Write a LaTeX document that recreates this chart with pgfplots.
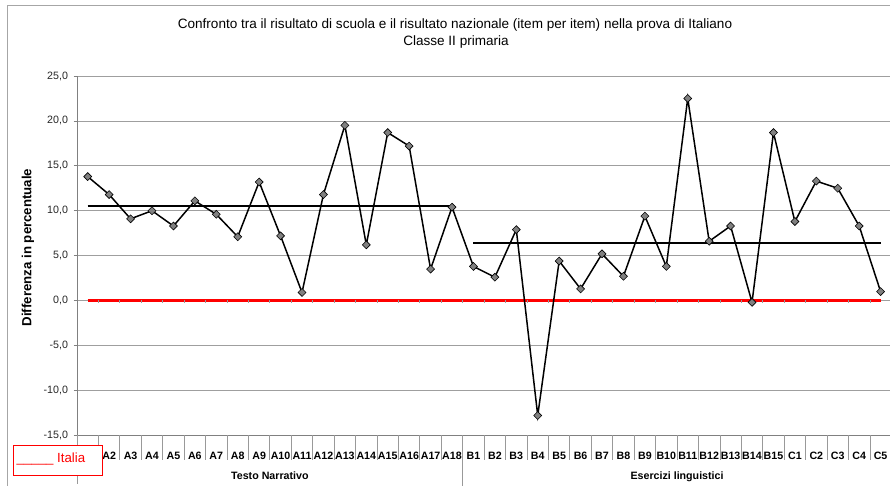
\documentclass[border=0pt]{standalone}
\usepackage{pgfplots}
\usepackage{pgfplotstable}
\pgfplotsset{compat=1.18}
\usepackage{fontspec}
\setmainfont{Liberation Sans}

\pgfplotstableread{
x y
1 13.8
2 11.8
3 9.1
4 10.0
5 8.3
6 11.1
7 9.6
8 7.1
9 13.2
10 7.2
11 0.9
12 11.8
13 19.5
14 6.2
15 18.7
16 17.2
17 3.5
18 10.4
19 3.8
20 2.6
21 7.9
22 -12.8
23 4.4
24 1.3
25 5.2
26 2.7
27 9.4
28 3.8
29 22.5
30 6.6
31 8.3
32 -0.2
33 18.7
34 8.8
35 13.3
36 12.5
37 8.3
38 1.0
}\scuola

\pgfplotstableread{
x y
1 10.5
18 10.5
}\mediaA

\pgfplotstableread{
x y
19 6.4
38 6.4
}\mediaB

\pgfplotstableread{
x y
1 0
38 0
}\italia

\begin{document}
\begin{tikzpicture}[x=1bp,y=1bp]
\path[use as bounding box] (0,0) rectangle (890,486);
% outer chart border
\draw[gray!70, line width=0.8bp] (7.5,-20) -- (7.5,481) -- (920,481);
\begin{axis}[
  at={(77bp,50.7bp)}, anchor=south west,
  scale only axis, width=814.3bp, height=359.3bp,
  xmin=0.5, xmax=38.5, ymin=-15, ymax=25,
  axis lines*=left,
  axis line style={gray, line width=0.9bp},
  xtick={1,...,38},
  xticklabels={{},A2,A3,A4,A5,A6,A7,A8,A9,A10,A11,A12,A13,A14,A15,A16,A17,A18,B1,B2,B3,B4,B5,B6,B7,B8,B9,B10,B11,B12,B13,B14,B15,C1,C2,C3,C4,C5},
  xtick style={draw=none},
  xticklabel style={font=\fontsize{10.7}{12}\selectfont\bfseries, anchor=base, yshift=-21bp},
  ytick={-15,-10,...,25},
  ytick style={gray, line width=0.8bp},
  major tick length=3.5bp,
  tick align=outside,
  yticklabel style={font=\fontsize{10.7}{12}\selectfont, color=black!85, xshift=-2bp},
  /pgf/number format/.cd, fixed, fixed zerofill, precision=1, use comma, assume math mode=true,
  /pgfplots/.cd,
  ymajorgrids, grid style={gray!75, line width=0.8bp},
  clip=false,
]
\addplot[red, line width=2.8bp] table {\italia};
\addplot[black, line width=1.5bp] table {\mediaA};
\addplot[black, line width=1.5bp] table {\mediaB};
\addplot[black, line width=1.5bp, mark=square*, mark size=2.8bp,
  mark options={rotate=45, fill=gray, draw=black, line width=0.6bp}] table {\scuola};
\end{axis}
% small ticks on the zero line and separators under the axis
\foreach \k in {1,...,37} {
  \draw[gray!80, line width=0.8bp] (77+\k*21.43, 186.0) -- ++(0,-3);
  \draw[gray!80, line width=0.8bp] (77+\k*21.43, 50.7) -- ++(0,-25);
}
\draw[gray!80, line width=0.9bp] (77, 50.7) -- (77, 2);
\draw[gray!80, line width=0.9bp] (77+18*21.43, 50.7) -- (77+18*21.43, 0);
% group labels
\node[font=\fontsize{10.7}{12}\selectfont\bfseries, anchor=base] at (77+9*21.43, 6) {Testo Narrativo};
\node[font=\fontsize{10.7}{12}\selectfont\bfseries, anchor=base] at (77+28*21.43, 6) {Esercizi linguistici};
% title
\node[font=\fontsize{13.6}{16}\selectfont, anchor=base] at (455, 486-28.3) {Confronto tra il risultato di scuola e il risultato nazionale (item per item) nella prova di Italiano};
\node[font=\fontsize{13.6}{16}\selectfont, anchor=base] at (456, 486-46) {Classe II primaria};
% y axis title
\node[font=\fontsize{13.3}{16}\selectfont\bfseries, rotate=90] at (28, 486-247.5) {Differenza in percentuale};
% legend
\draw[red, line width=0.8bp, fill=white] (13, 486-445.5) rectangle (102.5, 486-475);
\node[text=red, font=\fontsize{13.3}{16}\selectfont, anchor=base west, inner sep=0pt] at (16.5, 486-463) {\_\_\_\_\_ Italia};
\end{tikzpicture}
\end{document}
